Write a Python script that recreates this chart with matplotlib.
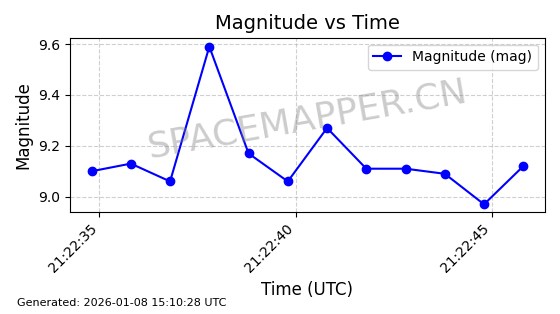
import matplotlib
matplotlib.use('Agg')
from matplotlib import pyplot as plt
import matplotlib.dates as mdates
from datetime import datetime, timedelta

times = ['21:22:34.8', '21:22:35.8', '21:22:36.8', '21:22:37.8', '21:22:38.8', '21:22:39.8',
         '21:22:40.8', '21:22:41.8', '21:22:42.8', '21:22:43.8', '21:22:44.8', '21:22:45.8']
magnitudes = [9.10, 9.13, 9.06, 9.59, 9.17, 9.06, 9.27, 9.11, 9.11, 9.09, 8.97, 9.12]

t = [datetime.strptime('2026-01-08 ' + s, '%Y-%m-%d %H:%M:%S.%f') for s in times]

fig = plt.figure(figsize=(5.6, 3.14), dpi=100)
ax = fig.add_axes([0.125, 0.325, 0.848, 0.555])

ax.plot(t, magnitudes, color='blue', marker='o', markersize=6, linewidth=1.5,
        label='Magnitude (mag)')

ax.xaxis.set_major_locator(mdates.SecondLocator(bysecond=[0, 5, 10, 15, 20, 25, 30, 35, 40, 45, 50, 55]))
ax.xaxis.set_major_formatter(mdates.DateFormatter('%H:%M:%S'))
plt.setp(ax.get_xticklabels(), rotation=45, ha='right')
ax.set_xlim(t[0] - timedelta(seconds=0.55), t[-1] + timedelta(seconds=0.55))
ax.set_ylim(8.94, 9.625)
ax.set_yticks([9.0, 9.2, 9.4, 9.6])

ax.grid(True, linestyle='--', alpha=0.6)
ax.set_title('Magnitude vs Time', fontsize=14)
ax.set_xlabel('Time (UTC)', fontsize=12)
ax.set_ylabel('Magnitude', fontsize=12)
ax.legend(loc='upper right')

ax.text(0.5, 0.53, 'SPACEMAPPER.CN', transform=ax.transAxes, fontsize=26,
        color='gray', alpha=0.4, rotation=10, ha='center', va='center')

fig.text(0.03, 0.025, 'Generated: 2026-01-08 15:10:28 UTC', fontsize=8)

fig.savefig('out.png', dpi=100)
